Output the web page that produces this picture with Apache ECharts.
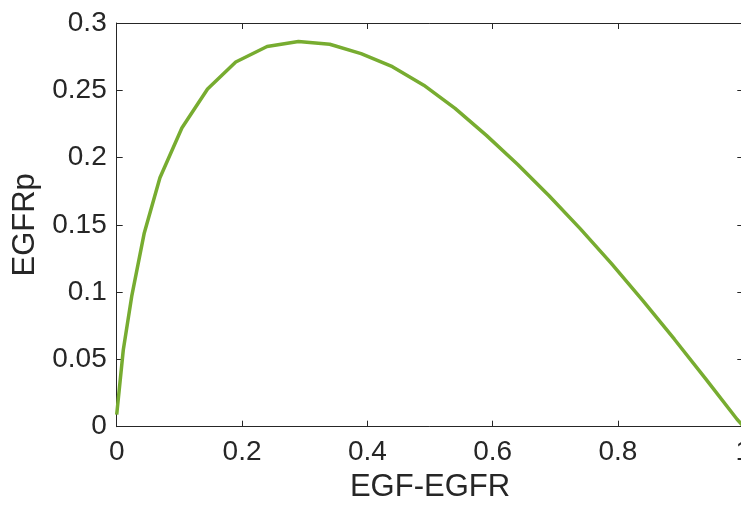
<!DOCTYPE html>
<html>
<head>
<meta charset="utf-8">
<script src="https://cdn.jsdelivr.net/npm/echarts@6/dist/echarts.min.js"></script>
<style>
html,body{margin:0;padding:0;background:#fff;}
#chart{width:741px;height:507px;}
</style>
</head>
<body>
<div id="chart"></div>
<script>
var xLabel = 'EGF-EGFR';
var yLabel = 'EGFRp';
var xValues = [0, 0.0105, 0.024, 0.044, 0.069, 0.104, 0.145, 0.19, 0.24, 0.29, 0.34, 0.39, 0.44, 0.49, 0.54, 0.59, 0.64, 0.69, 0.74, 0.79, 0.84, 0.89, 0.94, 0.99, 1.0];
var yValues = [0.009, 0.057, 0.097, 0.144, 0.185, 0.222, 0.251, 0.271, 0.2825, 0.2862, 0.2842, 0.2772, 0.2675, 0.2538, 0.2365, 0.2165, 0.1948, 0.1716, 0.1470, 0.1210, 0.0935, 0.065, 0.0355, 0.0055, 0.0005];

var pts = xValues.map(function (x, i) { return [x, yValues[i]]; });
var axisColor = '#262626';
var font = 'Liberation Sans, Arial, Helvetica, sans-serif';

var chart = echarts.init(document.getElementById('chart'), null, {renderer: 'canvas'});
chart.setOption({
  animation: false,
  backgroundColor: '#ffffff',
  grid: {left: 116.7, right: -2.3, top: 23, bottom: 80.3, show: false, containLabel: false, outerBoundsMode: 'none'},
  xAxis: [{
    type: 'value', min: 0, max: 1, interval: 0.2,
    name: xLabel, nameLocation: 'middle', nameGap: 42,
    nameTextStyle: {fontSize: 31, color: axisColor, fontFamily: font},
    axisLine: {show: true, onZero: false, lineStyle: {color: axisColor, width: 1}},
    axisTick: {show: true, inside: true, length: 6, lineStyle: {color: axisColor}},
    axisLabel: {fontSize: 28, color: axisColor, fontFamily: font, margin: 12, hideOverlap: false},
    splitLine: {show: false}
  }, {
    type: 'value', min: 0, max: 1, interval: 0.2, position: 'top',
    axisLine: {show: true, onZero: false, lineStyle: {color: axisColor, width: 1}},
    axisTick: {show: true, inside: true, length: 6, lineStyle: {color: axisColor}},
    axisLabel: {show: false}, splitLine: {show: false}
  }],
  yAxis: [{
    type: 'value', min: 0, max: 0.3, interval: 0.05,
    name: yLabel, nameLocation: 'middle', nameGap: 72,
    nameTextStyle: {fontSize: 31, color: axisColor, fontFamily: font},
    axisLine: {show: true, onZero: false, lineStyle: {color: axisColor, width: 1}},
    axisTick: {show: true, inside: true, length: 6, lineStyle: {color: axisColor}},
    axisLabel: {fontSize: 28, color: axisColor, fontFamily: font, margin: 10},
    splitLine: {show: false}
  }, {
    type: 'value', min: 0, max: 0.3, interval: 0.05, position: 'right',
    axisLine: {show: true, onZero: false, lineStyle: {color: axisColor, width: 1}},
    axisTick: {show: true, inside: true, length: 6, lineStyle: {color: axisColor}},
    axisLabel: {show: false}, splitLine: {show: false}
  }],
  series: [{
    type: 'line',
    data: pts,
    xAxisIndex: 0, yAxisIndex: 0,
    showSymbol: false,
    smooth: false,
    lineStyle: {color: '#77AC30', width: 3.5},
    clip: false
  }]
});
</script>
</body>
</html>
